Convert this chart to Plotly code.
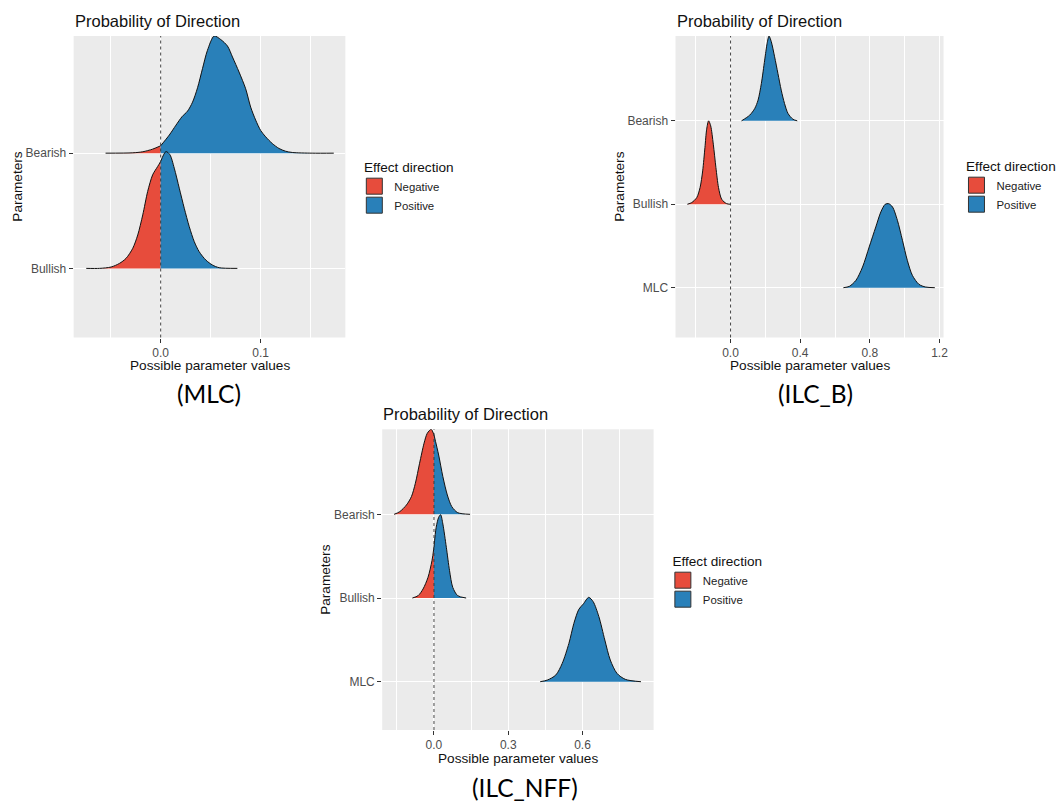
import plotly.graph_objects as go

W, H = 1063, 808
RED = "#e74c3c"
BLUE = "#2980b9"
FONT = "Liberation Sans, Arial, sans-serif"

# ---------------- data ----------------
# Panel (MLC): categories bottom -> top
mlc_categories = ["Bullish", "Bearish"]
mlc_xticks = [0.0, 0.1]
mlc_xticktext = ["0.0", "0.1"]
mlc_xminor = [-0.05, 0.05, 0.15]

mlc_bearish_x = [-0.0551, -0.0279, -0.0179, -0.008, 0.0, 0.0086, 0.0153, 0.0213, 0.0269, 0.0319,
                 0.0369, 0.0419, 0.0468, 0.0535, 0.0601, 0.0668, 0.0718, 0.0784, 0.0850, 0.0900,
                 0.0950, 0.1000, 0.1050, 0.1116, 0.1183, 0.1249, 0.1316, 0.1515, 0.1731]
mlc_bearish_h = [0.0, 0.003, 0.012, 0.035, 0.064, 0.157, 0.243, 0.316, 0.365, 0.443,
                 0.568, 0.736, 0.893, 1.017, 0.986, 0.930, 0.835, 0.704, 0.559, 0.400,
                 0.287, 0.197, 0.142, 0.084, 0.041, 0.017, 0.006, 0.0, 0.0]

mlc_bullish_x = [-0.0744, -0.0611, -0.0495, -0.0412, -0.0346, -0.0279, -0.0229, -0.0179, -0.013, -0.008,
                 -0.003, 0.0, 0.0053, 0.0093, 0.0136, 0.0186, 0.0236, 0.0286, 0.0336, 0.0385,
                 0.0452, 0.0518, 0.0585, 0.0767]
mlc_bullish_h = [0.0, 0.0, 0.012, 0.043, 0.087, 0.174, 0.29, 0.464, 0.667, 0.812,
                 0.884, 0.928, 1.014, 0.986, 0.87, 0.696, 0.522, 0.362, 0.232, 0.145,
                 0.072, 0.029, 0.006, 0.0]

# Panel (ILC_B)
ilcb_categories = ["MLC", "Bullish", "Bearish"]
ilcb_xticks = [0.0, 0.4, 0.8, 1.2]
ilcb_xticktext = ["0.0", "0.4", "0.8", "1.2"]
ilcb_xminor = [-0.2, 0.2, 0.6, 1.0]

ilcb_bearish_x = [0.063, 0.110, 0.139, 0.158, 0.177, 0.196, 0.210, 0.221, 0.234, 0.253,
                  0.272, 0.291, 0.310, 0.330, 0.358, 0.383]
ilcb_bearish_h = [0.0, 0.068, 0.148, 0.248, 0.448, 0.728, 0.928, 1.016, 0.948, 0.768,
                  0.568, 0.368, 0.208, 0.088, 0.020, 0.0]

ilcb_bullish_x = [-0.248, -0.223, -0.194, -0.175, -0.160, -0.147, -0.137, -0.126, -0.114, -0.099,
                  -0.084, -0.069, -0.051, -0.023, 0.0]
ilcb_bullish_h = [0.0, 0.02, 0.08, 0.2, 0.4, 0.68, 0.9, 1.0, 0.94, 0.72,
                  0.44, 0.2, 0.06, 0.008, 0.0]

ilcb_mlc_x = [0.648, 0.682, 0.720, 0.758, 0.796, 0.834, 0.863, 0.888, 0.907, 0.930,
              0.958, 0.987, 1.015, 1.044, 1.082, 1.120, 1.173]
ilcb_mlc_h = [0.0, 0.016, 0.088, 0.248, 0.488, 0.728, 0.908, 1.0, 1.008, 0.968,
              0.808, 0.568, 0.328, 0.148, 0.04, 0.008, 0.0]

# Panel (ILC_NFF)
nff_categories = ["MLC", "Bullish", "Bearish"]
nff_xticks = [0.0, 0.3, 0.6]
nff_xticktext = ["0.0", "0.3", "0.6"]
nff_xminor = [-0.15, 0.15, 0.45, 0.75]

nff_bearish_x = [-0.161, -0.138, -0.111, -0.091, -0.075, -0.058, -0.040, -0.027, -0.011, 0.0,
                 0.019, 0.036, 0.054, 0.072, 0.096, 0.146]
nff_bearish_h = [0.0, 0.032, 0.112, 0.211, 0.371, 0.61, 0.849, 0.968, 1.016, 0.95,
                 0.709, 0.45, 0.231, 0.092, 0.02, 0.0]

nff_bullish_x = [-0.087, -0.064, -0.044, -0.024, -0.008, 0.0, 0.009, 0.019, 0.027, 0.036,
                 0.050, 0.063, 0.076, 0.096, 0.130]
nff_bullish_h = [0.0, 0.028, 0.108, 0.247, 0.446, 0.606, 0.845, 0.964, 0.996, 0.884,
                 0.606, 0.327, 0.127, 0.028, 0.0]

nff_mlc_x = [0.429, 0.458, 0.492, 0.518, 0.545, 0.565, 0.585, 0.603, 0.625, 0.643,
             0.666, 0.690, 0.712, 0.739, 0.773, 0.836]
nff_mlc_h = [0.0, 0.02, 0.08, 0.219, 0.458, 0.697, 0.865, 0.928, 1.008, 0.956,
             0.777, 0.498, 0.259, 0.1, 0.028, 0.0]

captions = ["(MLC)", "(ILC_B)", "(ILC_NFF)"]
plot_title = "Probability of Direction"
x_title = "Possible parameter values"
y_title = "Parameters"
legend_title = "Effect direction"
legend_names = ["Negative", "Positive"]

# ---------------- layout helpers ----------------
def px(x):
    return x / W


def py(y):
    return 1 - y / H


panels = [
    dict(ax="", cats=mlc_categories, ticks=mlc_xticks, ticktext=mlc_xticktext, minor=mlc_xminor,
         ridges=[(mlc_bearish_x, mlc_bearish_h, 2), (mlc_bullish_x, mlc_bullish_h, 1)],
         box=(74, 347, 36, 337.5), xr=[-0.087, 0.1847], yr=[0.4, 3.017],
         legend="legend", leg=(356, 154), cap=(210, 393), ytitle_x=18, caption=captions[0]),
    dict(ax="2", cats=ilcb_categories, ticks=ilcb_xticks, ticktext=ilcb_xticktext, minor=ilcb_xminor,
         ridges=[(ilcb_bearish_x, ilcb_bearish_h, 3), (ilcb_bullish_x, ilcb_bullish_h, 2),
                 (ilcb_mlc_x, ilcb_mlc_h, 1)],
         box=(678.7, 948, 36, 337.5), xr=[-0.316, 1.223], yr=[0.403, 4.017],
         legend="legend2", leg=(961, 153), cap=(819, 393), ytitle_x=623, caption=captions[1]),
    dict(ax="3", cats=nff_categories, ticks=nff_xticks, ticktext=nff_xticktext, minor=nff_xminor,
         ridges=[(nff_bearish_x, nff_bearish_h, 3), (nff_bullish_x, nff_bullish_h, 2),
                 (nff_mlc_x, nff_mlc_h, 1)],
         box=(384, 656.7, 429.3, 730), xr=[-0.209, 0.887], yr=[0.423, 4.016],
         legend="legend3", leg=(666, 548), cap=(527, 787), ytitle_x=326.7, caption=captions[2]),
]

fig = go.Figure()
annotations = []
shapes = []
layout = {}

for p in panels:
    xa = "x" + p["ax"]
    ya = "y" + p["ax"]
    for xs, hs, base in p["ridges"]:
        neg = [(x, h) for x, h in zip(xs, hs) if x <= 0]
        pos = [(x, h) for x, h in zip(xs, hs) if x >= 0]
        for part, col in ((neg, RED), (pos, BLUE)):
            if len(part) < 2:
                continue
            px_ = [a for a, _ in part]
            py_ = [base + b for _, b in part]
            fig.add_trace(go.Scatter(x=[px_[0], px_[-1]], y=[base, base], mode="lines",
                                     line=dict(width=0, color=col), showlegend=False,
                                     hoverinfo="skip", xaxis=xa, yaxis=ya))
            fig.add_trace(go.Scatter(x=px_, y=py_, mode="lines", fill="tonexty", fillcolor=col,
                                     line=dict(color="#111111", width=1, shape="spline", smoothing=0.8),
                                     showlegend=False, hoverinfo="skip", xaxis=xa, yaxis=ya))
    for name, col in zip(legend_names, (RED, BLUE)):
        fig.add_trace(go.Scatter(x=[None], y=[None], mode="markers", name=name,
                                 marker=dict(symbol="square", size=16, color=col,
                                             line=dict(color="#333333", width=1)),
                                 legend=p["legend"], xaxis=xa, yaxis=ya))

    x0, x1, y0, y1 = p["box"]
    layout["xaxis" + p["ax"]] = dict(
        domain=[px(x0), px(x1)], range=p["xr"], anchor=ya,
        tickvals=p["ticks"], ticktext=p["ticktext"], ticks="outside", ticklen=4,
        tickcolor="#333333", tickwidth=1, tickfont=dict(size=12, color="#4D4D4D", family=FONT),
        showgrid=True, gridcolor="white", gridwidth=1.3, zeroline=False, showline=False,
        minor=dict(tickvals=p["minor"], showgrid=True, gridcolor="white", gridwidth=0.6, ticks=""),
        fixedrange=True)
    layout["yaxis" + p["ax"]] = dict(
        domain=[py(y1), py(y0)], range=p["yr"], anchor=xa,
        tickvals=list(range(1, len(p["cats"]) + 1)), ticktext=p["cats"], ticks="outside", ticklen=4,
        tickcolor="#333333", tickwidth=1, tickfont=dict(size=12, color="#4D4D4D", family=FONT),
        showgrid=True, gridcolor="white", gridwidth=1.3, zeroline=False, showline=False,
        fixedrange=True)
    lx, ly = p["leg"]
    layout[p["legend"]] = dict(
        x=px(lx), y=py(ly), xanchor="left", yanchor="top", bgcolor="rgba(0,0,0,0)",
        traceorder="normal",
        title=dict(text="&nbsp;&nbsp;" + legend_title, font=dict(size=13.6, color="#111111", family=FONT)),
        font=dict(size=11.4, color="#222222", family=FONT), itemwidth=30, tracegroupgap=0,
        itemclick=False, itemdoubleclick=False)

    shapes.append(dict(type="line", xref=xa, yref=ya + " domain", x0=0, x1=0, y0=0, y1=1,
                       line=dict(color="#333333", width=0.9, dash="dot"), layer="above"))

    annotations.append(dict(text=plot_title, xref="paper", yref="paper", x=px(x0 - 1), y=py(y0 - 15),
                            xanchor="left", yanchor="middle", showarrow=False,
                            font=dict(size=16.5, color="#111111", family=FONT)))
    annotations.append(dict(text=x_title, xref="paper", yref="paper", x=px((x0 + x1) / 2),
                            y=py(y1 + 28), xanchor="center", yanchor="middle", showarrow=False,
                            font=dict(size=13.6, color="#111111", family=FONT)))
    annotations.append(dict(text=y_title, xref="paper", yref="paper", x=px(p["ytitle_x"]),
                            y=py((y0 + y1) / 2), xanchor="center", yanchor="middle", showarrow=False,
                            textangle=-90, font=dict(size=13.6, color="#111111", family=FONT)))
    cx, cy = p["cap"]
    annotations.append(dict(text=p["caption"], xref="paper", yref="paper",
                            x=px(cx), y=py(cy), xanchor="center", yanchor="middle", showarrow=False,
                            font=dict(size=24.5, color="#000000", family="Lato, Carlito, Liberation Sans, sans-serif")))

fig.update_layout(
    width=W, height=H, margin=dict(l=0, r=0, t=0, b=0),
    paper_bgcolor="white", plot_bgcolor="#EBEBEB",
    font=dict(family=FONT, color="#222222"),
    annotations=annotations, shapes=shapes, **layout)

fig.write_html("out.html", config={"displayModeBar": False},
               post_script="document.body.style.margin='0';document.body.style.padding='0';")
